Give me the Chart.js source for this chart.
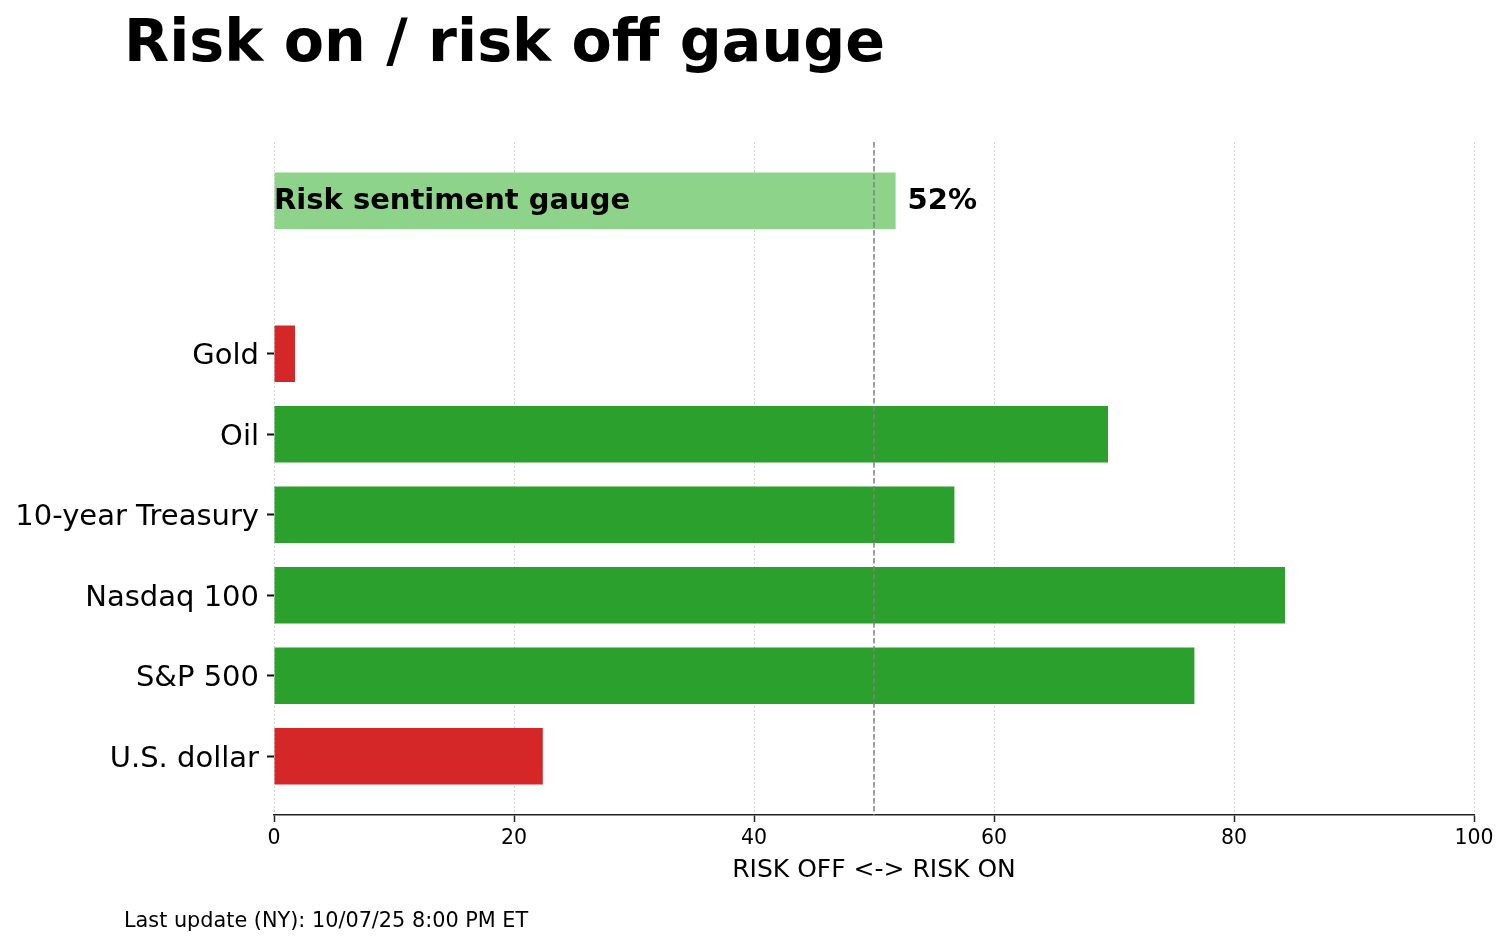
<!DOCTYPE html>
<html>
<head>
<meta charset="utf-8">
<script src="https://cdn.jsdelivr.net/npm/chart.js@4"></script>
<style>
  html, body { margin: 0; padding: 0; background: #fff; }
  #wrap { width: 1509px; height: 946px; position: relative; }
</style>
</head>
<body>
<div id="wrap"><canvas id="myChart" width="1509" height="946"></canvas></div>
<script>
const categories = ['U.S. dollar', 'S&P 500', 'Nasdaq 100', '10-year Treasury', 'Oil', 'Gold'];
const scores = [22.4, 76.7, 84.25, 56.7, 69.5, 1.75];
const gaugeLabel = 'Risk sentiment gauge';
const gaugeValue = 51.8;
const xTicks = [0, 20, 40, 60, 80, 100];
const titleText = 'Risk on / risk off gauge';
const footerText = 'Last update (NY): 10/07/25 8:00 PM ET';
const axisTitle = 'RISK OFF <-> RISK ON';

const GAUGE_POS = 6.9;
const FONT = "'DejaVu Sans', sans-serif";

const barColor = (v) => v >= 50 ? '#2ca02c' : '#d62728';

const points = categories.map((c, i) => ({ x: scores[i], y: i }));
points.push({ x: gaugeValue, y: GAUGE_POS });
const colors = scores.map(barColor);
colors.push('#8dd38a');

// extra drawing: title, footer, the 50 line and the gauge texts
const overlay = {
  id: 'overlay',
  afterDraw(chart) {
    const ctx = chart.ctx;
    const { top, bottom } = chart.chartArea;
    const xs = chart.scales.x;
    ctx.save();
    // midline
    const mid = xs.getPixelForValue(50);
    ctx.strokeStyle = '#808080';
    ctx.lineWidth = 1.5;
    ctx.setLineDash([5.5, 2.5]);
    ctx.beginPath();
    ctx.moveTo(mid, top);
    ctx.lineTo(mid, bottom);
    ctx.stroke();
    ctx.setLineDash([]);

    // gauge texts
    const bar = chart.getDatasetMeta(0).data[categories.length];
    ctx.fillStyle = '#000';
    ctx.textBaseline = 'middle';
    ctx.font = `bold 29px ${FONT}`;
    ctx.textAlign = 'left';
    ctx.fillText(gaugeLabel, xs.getPixelForValue(0), bar.y + 1);
    ctx.fillText(Math.round(gaugeValue) + '%', bar.x + 12, bar.y + 1);

    // title + footer
    ctx.textBaseline = 'alphabetic';
    ctx.font = `bold 58.7px ${FONT}`;
    ctx.fillText(titleText, 124, 61);
    ctx.font = `20.8px ${FONT}`;
    ctx.fillText(footerText, 124, 927);
    ctx.restore();
  }
};

new Chart(document.getElementById('myChart').getContext('2d'), {
  type: 'bar',
  data: {
    datasets: [{
      data: points,
      backgroundColor: colors,
      borderWidth: 0,
      categoryPercentage: 0.7,
      barPercentage: 1.0
    }]
  },
  options: {
    indexAxis: 'y',
    responsive: false,
    animation: false,
    devicePixelRatio: 1,
    layout: { padding: { top: 142, right: 35, left: 0, bottom: 0 } },
    plugins: { legend: { display: false }, tooltip: { enabled: false } },
    scales: {
      x: {
        type: 'linear',
        min: 0,
        max: 100,
        z: 1,
        afterFit: (s) => { s.height = 131; },
        afterBuildTicks: (s) => { s.ticks = xTicks.map(v => ({ value: v })); },
        grid: {
          color: '#d4d4d4',
          lineWidth: 1,
          drawTicks: true,
          tickLength: 7,
          tickColor: '#222',
          tickWidth: 1.5
        },
        border: { display: true, color: '#222', width: 1.5, dash: [2, 2] },
        ticks: {
          color: '#000',
          padding: 4,
          font: { family: FONT, size: 20.5 }
        },
        title: {
          display: true,
          text: axisTitle,
          color: '#000',
          font: { family: FONT, size: 25 },
          padding: { top: 0, bottom: 61 }
        }
      },
      y: {
        type: 'linear',
        min: -0.73,
        max: 7.63,
        offset: false,
        afterFit: (s) => { s.width = 274; },
        afterBuildTicks: (s) => { s.ticks = categories.map((c, i) => ({ value: i })); },
        grid: {
          offset: false,
          drawOnChartArea: false,
          drawTicks: true,
          tickLength: 7,
          tickColor: '#111',
          tickWidth: 2
        },
        border: { display: false },
        ticks: {
          color: '#000',
          padding: 8,
          labelOffset: 3,
          autoSkip: false,
          font: { family: FONT, size: 29 },
          callback: (v) => categories[v]
        }
      }
    }
  },
  plugins: [overlay]
});
</script>
</body>
</html>
